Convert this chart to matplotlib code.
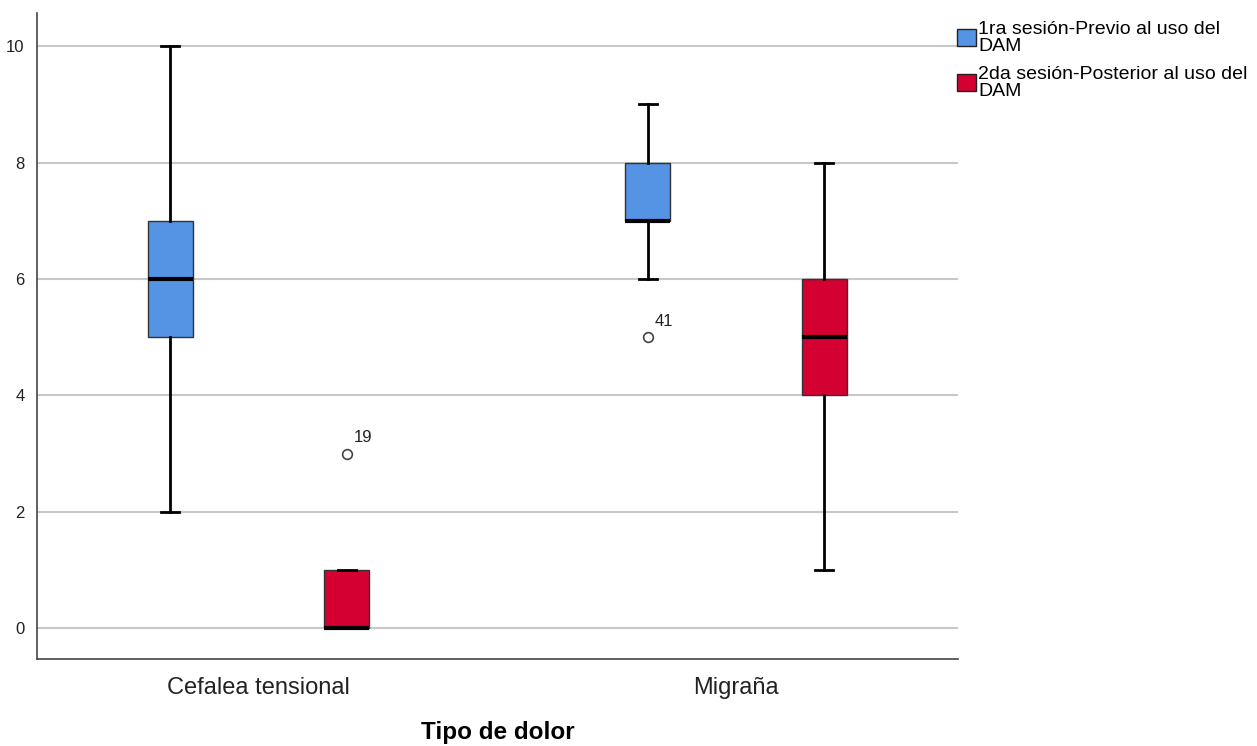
import matplotlib
matplotlib.use("Agg")
import matplotlib.pyplot as plt
from matplotlib.patches import Patch

plt.rcParams['font.family'] = ['Liberation Sans', 'DejaVu Sans']

categories = ["Cefalea tensional", "Migraña"]
series = ["1ra sesión-Previo al uso del\nDAM", "2da sesión-Posterior al uso del\nDAM"]
colors = ["#5593E4", "#D50032"]

# five-number summaries per series, one entry per category
whislo = [[2, 6], [0, 1]]
q1 = [[5, 7], [0, 4]]
med = [[6, 7], [0, 5]]
q3 = [[7, 8], [1, 6]]
whishi = [[10, 9], [1, 8]]
fliers = [[[], [5]], [[3], []]]
flier_ids = [[[], ["41"]], [["19"], []]]

offsets = [-0.185, 0.185]
box_w = 0.094

fig = plt.figure(figsize=(12.57, 7.46), dpi=100)
ax = fig.add_axes([0.0294, 0.1166, 0.7327, 0.866])

for s in range(len(series)):
    stats = []
    for c in range(len(categories)):
        stats.append(dict(whislo=whislo[s][c], q1=q1[s][c], med=med[s][c],
                          q3=q3[s][c], whishi=whishi[s][c], fliers=fliers[s][c]))
    pos = [c + offsets[s] for c in range(len(categories))]
    ax.bxp(stats, positions=pos, widths=box_w, capwidths=0.038, patch_artist=True,
           boxprops=dict(facecolor=colors[s], edgecolor="#333333", linewidth=1),
           medianprops=dict(color="black", linewidth=3),
           whiskerprops=dict(color="black", linewidth=2),
           capprops=dict(color="black", linewidth=2),
           flierprops=dict(marker="o", markersize=7, markerfacecolor="white",
                           markeredgecolor="#444444", markeredgewidth=1.2),
           zorder=3)
    for c in range(len(categories)):
        for v, lab in zip(fliers[s][c], flier_ids[s][c]):
            ax.annotate(lab, (pos[c], v), xytext=(5, 8), textcoords="offset points",
                        fontsize=12, color="#222222")

ax.set_xlim(-0.464, 1.465)
ax.set_ylim(-0.53, 10.57)
ax.set_yticks([0, 2, 4, 6, 8, 10])
ax.set_xticks(range(len(categories)))
ax.set_xticklabels(categories, fontsize=17, color="#222222")
ax.tick_params(axis="both", length=0)
ax.tick_params(axis="y", labelsize=12, pad=9, labelcolor="#222222")
ax.tick_params(axis="x", pad=13)
ax.yaxis.grid(True, color="#c8c8c8", linewidth=1.5, zorder=0)
ax.set_axisbelow(True)
for side in ["top", "right"]:
    ax.spines[side].set_visible(False)
for side in ["left", "bottom"]:
    ax.spines[side].set_color("#444444")
    ax.spines[side].set_linewidth(1.2)

ax.set_xlabel("Tipo de dolor", fontsize=17.5, fontweight="bold", labelpad=16)

handles = [Patch(facecolor=colors[i], edgecolor="#222222", linewidth=1) for i in range(len(series))]
leg = fig.legend(handles, series, loc="upper left", bbox_to_anchor=(0.755, 0.982),
                 frameon=False, fontsize=14, handlelength=1.0, handleheight=1.0,
                 handletextpad=0.1, labelspacing=0.6, borderaxespad=0)
for t in leg.get_texts():
    t.set_linespacing(0.95)

fig.savefig("out.png", dpi=100)
